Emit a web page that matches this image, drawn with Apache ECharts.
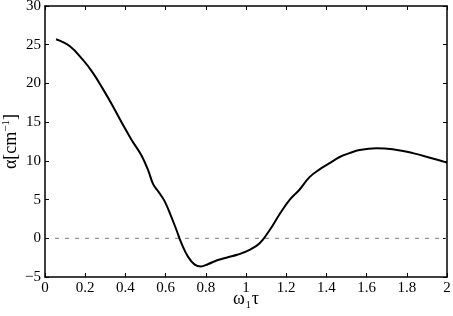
<!DOCTYPE html>
<html><head><meta charset="utf-8">
<script src="https://cdn.jsdelivr.net/npm/echarts@6/dist/echarts.min.js"></script>
<style>html,body{margin:0;padding:0;background:#fff}#c{width:453px;height:316px}</style>
</head><body><div id="c"></div>
<script>
var xTicks = [0, 0.2, 0.4, 0.6, 0.8, 1, 1.2, 1.4, 1.6, 1.8, 2];
var yTicks = [-5, 0, 5, 10, 15, 20, 25, 30];
var curveX = [0.055, 0.124, 0.19, 0.24, 0.29, 0.339, 0.389, 0.431, 0.48, 0.513, 0.538, 0.565, 0.595, 0.625, 0.654, 0.679, 0.712, 0.745, 0.775, 0.81, 0.86, 0.91, 0.96, 1.018, 1.068, 1.118, 1.167, 1.217, 1.267, 1.316, 1.366, 1.416, 1.466, 1.515, 1.565, 1.648, 1.73, 1.83, 1.929, 2.0];
var curveY = [25.7, 24.8, 23.0, 21.3, 19.2, 17.0, 14.6, 12.7, 10.7, 8.8, 7.0, 6.0, 4.8, 3.0, 1.07, -0.65, -2.4, -3.4, -3.65, -3.35, -2.8, -2.45, -2.1, -1.5, -0.65, 1.07, 3.1, 4.95, 6.3, 7.9, 8.9, 9.7, 10.5, 11.0, 11.4, 11.63, 11.5, 11.0, 10.3, 9.77];
var zeroX = [0.05, 2.0];
var zeroY = [0, 0];

var curve = curveX.map(function(x, i){ return [x, curveY[i]]; });
var zero = zeroX.map(function(x, i){ return [x, zeroY[i]]; });
var font = 'Liberation Serif';
var chart = echarts.init(document.getElementById('c'));
var axLine = {show:true, onZero:false, lineStyle:{color:'#000', width:1.5}};
var tick = {show:true, inside:true, length:4, lineStyle:{color:'#000'}};
chart.setOption({
  animation:false,
  grid:{left:45, right:6, top:6, bottom:39, containLabel:false, outerBoundsMode:'none'},
  xAxis:[{
    type:'value', min:0, max:2, interval:0.2, position:'bottom',
    axisLine:axLine, axisTick:tick, splitLine:{show:false},
    axisLabel:{color:'#000', fontFamily:font, fontSize:15, margin:4,
      formatter:function(v){ return xTicks.indexOf(+v.toFixed(1))>=0 ? String(+v.toFixed(1)) : ''; }},
    name:'{w|ω}{s|1}{w|τ}', nameLocation:'middle', nameGap:11, nameMoveOverlap:false,
    nameTextStyle:{rich:{w:{fontFamily:font, fontSize:18, color:'#000', lineHeight:22}, s:{fontFamily:font, fontSize:10, color:'#000', verticalAlign:'bottom', lineHeight:22, padding:[0,1,0,1]}}}
  },{
    type:'value', min:0, max:2, interval:0.2, position:'top',
    axisLine:axLine, axisTick:tick, axisLabel:{show:false}, splitLine:{show:false}
  }],
  yAxis:[{
    type:'value', min:-5, max:30, interval:5, position:'left',
    axisLine:axLine, axisTick:tick, splitLine:{show:false},
    axisLabel:{color:'#000', fontFamily:font, fontSize:15, margin:4,
      formatter:function(v){ return v<0 ? '\u2212'+Math.abs(v) : String(v); }},
    name:'{a|α[cm}{e|−1}{a|]}', nameLocation:'middle', nameGap:24, nameMoveOverlap:false,
    nameTextStyle:{rich:{a:{fontFamily:font, fontSize:18, color:'#000'}, e:{fontFamily:font, fontSize:11, color:'#000', verticalAlign:'top', padding:[0,0,9,0]}}}
  },{
    type:'value', min:-5, max:30, interval:5, position:'right',
    axisLine:axLine, axisTick:tick, axisLabel:{show:false}, splitLine:{show:false}
  }],
  series:[{
    type:'line', data:zero, xAxisIndex:0, yAxisIndex:0, symbol:'none',
    lineStyle:{color:'#777', width:1, type:[4,6]}
  },{
    type:'line', data:curve, xAxisIndex:0, yAxisIndex:0, symbol:'none', smooth:0.4,
    lineStyle:{color:'#000', width:2}
  }]
});
</script></body></html>
